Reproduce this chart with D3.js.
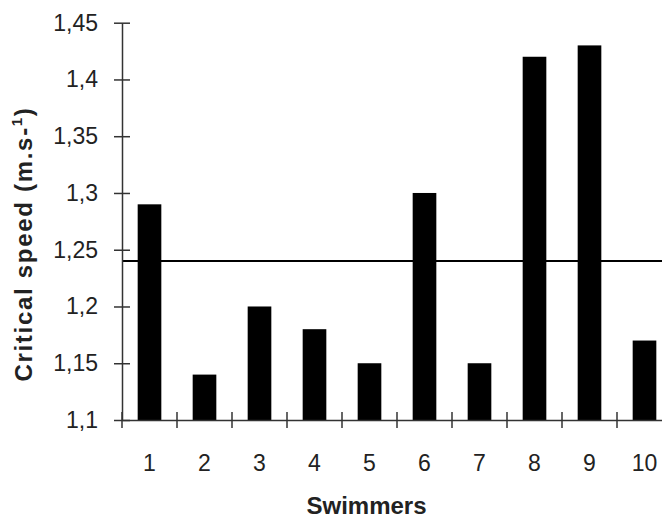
<!DOCTYPE html>
<html>
<head>
<meta charset="utf-8">
<script src="https://cdn.jsdelivr.net/npm/d3@7"></script>
<style>
  body { margin: 0; background: #fff; }
  svg { display: block; font-family: "Liberation Sans", Arial, sans-serif; }
  .tick text { fill: #222; font-size: 23px; }
</style>
</head>
<body>
<svg id="chart" width="662" height="518"></svg>
<script>
// data
const swimmers = ['1', '2', '3', '4', '5', '6', '7', '8', '9', '10'];
const criticalSpeed = [1.29, 1.14, 1.20, 1.18, 1.15, 1.30, 1.15, 1.42, 1.43, 1.17];
const meanSpeed = 1.24;
const yTicks = [1.1, 1.15, 1.2, 1.25, 1.3, 1.35, 1.4, 1.45];

const svg = d3.select('#chart');
const plotLeft = 122, plotRight = 672, plotTop = 22.7, plotBottom = 420;

const x = d3.scaleBand().domain(swimmers).range([plotLeft, plotRight]).paddingInner(0.57).paddingOuter(0.285);
const xTicks = d3.scaleBand().domain(swimmers).range([plotLeft, plotRight]);
const y = d3.scaleLinear().domain([1.1, 1.45]).range([plotBottom, plotTop]);

const commaFmt = d3.formatLocale({ decimal: ',', thousands: '.', grouping: [3], currency: ['', ''] }).format('~g');

// bars
svg.append('g')
  .selectAll('rect')
  .data(criticalSpeed)
  .join('rect')
  .attr('x', (d, i) => x(swimmers[i]))
  .attr('width', x.bandwidth())
  .attr('y', d => y(d))
  .attr('height', d => plotBottom - y(d))
  .attr('fill', '#000');

// mean line
svg.append('line')
  .attr('x1', plotLeft).attr('x2', 662)
  .attr('y1', y(meanSpeed)).attr('y2', y(meanSpeed))
  .attr('stroke', '#000').attr('stroke-width', 2);

// y axis
const yAxis = svg.append('g')
  .attr('transform', `translate(${plotLeft},0)`)
  .call(d3.axisLeft(y).tickValues(yTicks).tickFormat(commaFmt).tickSize(0).tickPadding(24));
yAxis.select('.domain').attr('stroke', '#333').attr('stroke-width', 1.5);
yAxis.selectAll('.tick').append('line')
  .attr('x1', -8).attr('x2', 8).attr('stroke', '#333').attr('stroke-width', 1.5);

// x axis
const xAxis = svg.append('g')
  .attr('transform', `translate(0,${plotBottom})`)
  .call(d3.axisBottom(xTicks).tickSize(0).tickPadding(43));
xAxis.select('.domain').attr('stroke', '#333').attr('stroke-width', 1.5);
xAxis.selectAll('.tick text').attr('dy', '0.35em');
// boundary ticks between swimmers
svg.append('g')
  .selectAll('line')
  .data(swimmers)
  .join('line')
  .attr('x1', d => xTicks(d)).attr('x2', d => xTicks(d))
  .attr('y1', plotBottom - 8).attr('y2', plotBottom + 8)
  .attr('stroke', '#333').attr('stroke-width', 1.5);

// axis titles
svg.append('text')
  .attr('x', 366.5).attr('y', 514)
  .attr('text-anchor', 'middle')
  .attr('font-size', 24).attr('font-weight', 'bold').attr('fill', '#222')
  .text('Swimmers');

const yTitle = svg.append('text')
  .attr('transform', 'translate(32,244) rotate(-90)')
  .attr('text-anchor', 'middle')
  .attr('font-size', 24).attr('font-weight', 'bold').attr('fill', '#222')
  .style('letter-spacing', '1.7px');
yTitle.append('tspan').text('Critical speed (m.s-');
yTitle.append('tspan').attr('font-size', 15).attr('dy', -10).text('1');
yTitle.append('tspan').attr('dy', 10).text(')');
</script>
</body>
</html>
